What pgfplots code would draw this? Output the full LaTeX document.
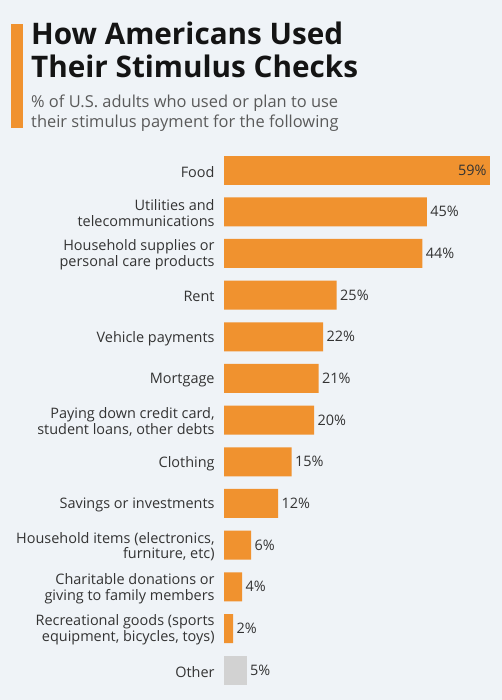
\documentclass[border=0pt]{standalone}
\usepackage{pgfplots}
\pgfplotsset{compat=1.18}
\usepackage{fontspec}
\setmainfont{Open Sans}
\definecolor{bg}{HTML}{EFF3F7}
\definecolor{barc}{HTML}{F0922F}
\definecolor{otherc}{HTML}{D2D2D2}
\definecolor{txt}{HTML}{333333}
\definecolor{sub}{HTML}{5A5A5A}
\begin{document}
\begin{tikzpicture}[x=1bp,y=1bp]
\fill[bg] (0,0) rectangle (502,700);
% title block
\fill[barc] (11,676) rectangle (23,572);
\node[anchor=base west, inner sep=0, font=\fontsize{29.8}{33}\selectfont\bfseries, text=black!92] at (31,655) {How Americans Used};
\node[anchor=base west, inner sep=0, font=\fontsize{29.8}{33}\selectfont\bfseries, text=black!92] at (31,622) {Their Stimulus Checks};
\node[anchor=base west, inner sep=0, font=\fontsize{16.5}{20}\selectfont, text=sub] at (31,592) {\% of U.S. adults who used or plan to use};
\node[anchor=base west, inner sep=0, font=\fontsize{16.5}{20}\selectfont, text=sub] at (31,572) {their stimulus payment for the following};
\begin{axis}[
  at={(224bp,9bp)}, anchor=south west,
  scale only axis, width=266bp, height=541.7bp,
  xbar, bar shift=0pt, bar width=29bp,
  xmin=0, xmax=59, ymin=-0.5, ymax=12.5, y dir=reverse,
  axis line style={draw=none}, tick style={draw=none},
  xtick=\empty,
  ytick={0,...,12},
  yticklabels={Food, {Utilities and\\telecommunications}, {Household supplies or\\personal care products}, Rent, Vehicle payments, Mortgage, {Paying down credit card,\\student loans, other debts}, Clothing, Savings or investments, {Household items (electronics,\\furniture, etc)}, {Charitable donations or\\giving to family members}, {Recreational goods (sports\\equipment, bicycles, toys)}, Other},
  yticklabel style={align=right, font=\fontsize{14.5}{16}\selectfont, text=txt, inner sep=0pt, xshift=-5bp, yshift=-1.5bp},
  point meta=x,
  /pgf/number format/assume math mode=true,
  nodes near coords={\pgfmathprintnumber{\pgfplotspointmeta}\%},
  nodes near coords style={font=\fontsize{14.5}{16}\selectfont, text=txt},
  clip=false,
]
\addplot[fill=barc, draw=none] coordinates {(45,1) (44,2) (25,3) (22,4) (21,5) (20,6) (15,7) (12,8) (6,9) (4,10) (2,11)};
\addplot[fill=barc, draw=none, nodes near coords style={anchor=east}] coordinates {(59,0)};
\addplot[fill=otherc, draw=none] coordinates {(5,12)};
\end{axis}
\pgfresetboundingbox
\path (0,0) rectangle (502,700);
\end{tikzpicture}
\end{document}
